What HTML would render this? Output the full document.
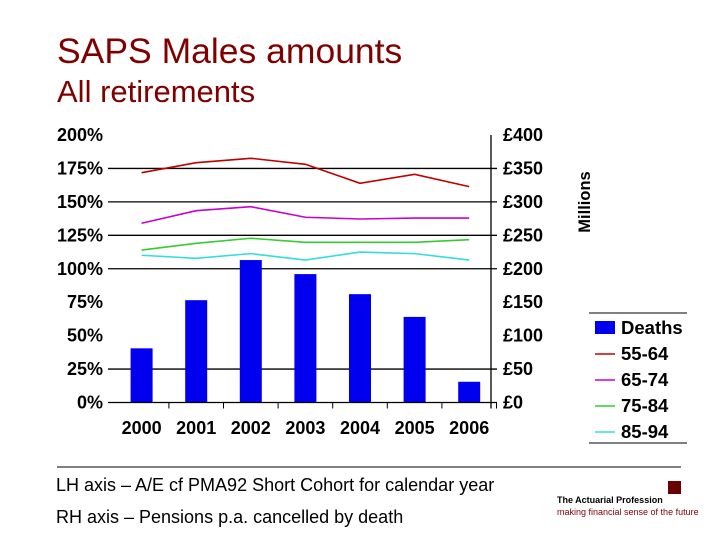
<!DOCTYPE html>
<html><head><meta charset="utf-8"><style>
body{margin:0;width:720px;height:540px;background:#fff;overflow:hidden;font-family:"Liberation Sans",sans-serif;position:relative}
.t{position:absolute;white-space:nowrap}
</style></head><body>
<div class="t" style="left:57px;top:31px;font-size:35.5px;color:#800000">SAPS Males amounts</div>
<div class="t" style="left:57px;top:74px;font-size:31px;color:#800000">All retirements</div>
<svg id="c" width="720" height="540" style="position:absolute;left:0;top:0"></svg>
<div class="t" style="left:56px;top:475px;font-size:18px">LH axis – A/E cf PMA92 Short Cohort for calendar year</div>
<div class="t" style="left:56px;top:507px;font-size:18px">RH axis – Pensions p.a. cancelled by death</div>
<div style="position:absolute;left:668px;top:481px;width:13px;height:13px;background:#6b0000"></div>
<div class="t" style="left:557px;top:495px;font-size:9px;font-weight:bold">The Actuarial Profession</div>
<div class="t" style="left:557px;top:507px;font-size:9px;color:#800000">making financial sense of the future</div>
<script>
const years=["2000","2001","2002","2003","2004","2005","2006"];
const deaths=[81,153,213,192,162,128,31];
const s5564=[171.8,179.3,182.6,178.1,163.9,170.6,161.4];
const s6574=[134.0,143.4,146.4,138.5,137.2,137.9,137.9];
const s7584=[114.0,119.0,122.8,119.8,119.8,119.8,121.7];
const s8594=[110.1,107.8,111.3,106.5,112.5,111.3,106.5];
const leftTicks=["0%","25%","50%","75%","100%","125%","150%","175%","200%"];
const rightTicks=["£0","£50","£100","£150","£200","£250","£300","£350","£400"];
const NS="http://www.w3.org/2000/svg",svg=document.getElementById('c');
const x0=114.3,step=54.6,yb=402.5,yt=135;
const xc=i=>x0+step*(i+0.5);
const yp=v=>yb-(yb-yt)*v/200;
const ym=v=>yb-(yb-yt)*v/400;
function mk(t,a){const e=document.createElementNS(NS,t);for(const k in a)e.setAttribute(k,a[k]);svg.appendChild(e);return e;}
[25,100,125,150,175].forEach(v=>{const l=mk('line',{x1:108,x2:497,y1:yp(v),y2:yp(v),stroke:'#000','stroke-width':1.3});

});
leftTicks.forEach((t,i)=>{const e=mk('text',{x:103,y:yp(i*25)+6,'font-size':18,'font-weight':'bold','text-anchor':'end','font-family':'Liberation Sans'});e.textContent=t;

});
rightTicks.forEach((t,i)=>{const e=mk('text',{x:503,y:ym(i*50)+6,'font-size':18,'font-weight':'bold','font-family':'Liberation Sans'});e.textContent=t;

});
deaths.forEach((v,i)=>{const r=mk('rect',{x:xc(i)-11,y:ym(v),width:22,height:yb-ym(v),fill:'#0000ee'});

});
mk('line',{x1:108,x2:497,y1:yb,y2:yb,stroke:'#000','stroke-width':1.3});
const ra=mk('line',{x1:491,x2:491,y1:yt,y2:yb+6,stroke:'#000','stroke-width':1.3});


for(let i=1;i<=7;i++)mk('line',{x1:x0+step*i,x2:x0+step*i,y1:yb,y2:yb+6,stroke:'#000'});
years.forEach((y,i)=>{const e=mk('text',{x:xc(i),y:434,'font-size':18,'font-weight':'bold','text-anchor':'middle','font-family':'Liberation Sans'});e.textContent=y;

});
[[s5564,'#c00000','55-64'],[s6574,'#cc00cc','65-74'],[s7584,'#33cc33','75-84'],[s8594,'#33dddd','85-94']].forEach(([d,c,n])=>{
const p=mk('polyline',{points:d.map((v,i)=>xc(i)+','+yp(v)).join(' '),fill:'none',stroke:c,'stroke-width':1.6});

});
const mt=mk('text',{x:0,y:0,'font-size':16.5,'font-weight':'bold','text-anchor':'middle','font-family':'Liberation Sans',transform:'translate(590,202) rotate(-90)'});mt.textContent='Millions';


mk('line',{x1:589,x2:687,y1:313,y2:313,stroke:'#000'});
mk('line',{x1:589,x2:687,y1:443,y2:443,stroke:'#000'});
const leg=[['Deaths','#0000ee',1],['55-64','#c00000',0],['65-74','#cc00cc',0],['75-84','#33cc33',0],['85-94','#33dddd',0]];
leg.forEach(([n,c,b],i)=>{const y=328+i*26;
if(b)mk('rect',{x:595,y:y-7,width:20,height:13,fill:c});else mk('line',{x1:595,x2:615,y1:y,y2:y,stroke:c,'stroke-width':1.6});
const e=mk('text',{x:621,y:y+6,'font-size':18.5,'font-weight':'bold','font-family':'Liberation Sans'});e.textContent=n;

});
mk('line',{x1:57,x2:681,y1:467,y2:467,stroke:'#000'});
</script>
</body></html>
